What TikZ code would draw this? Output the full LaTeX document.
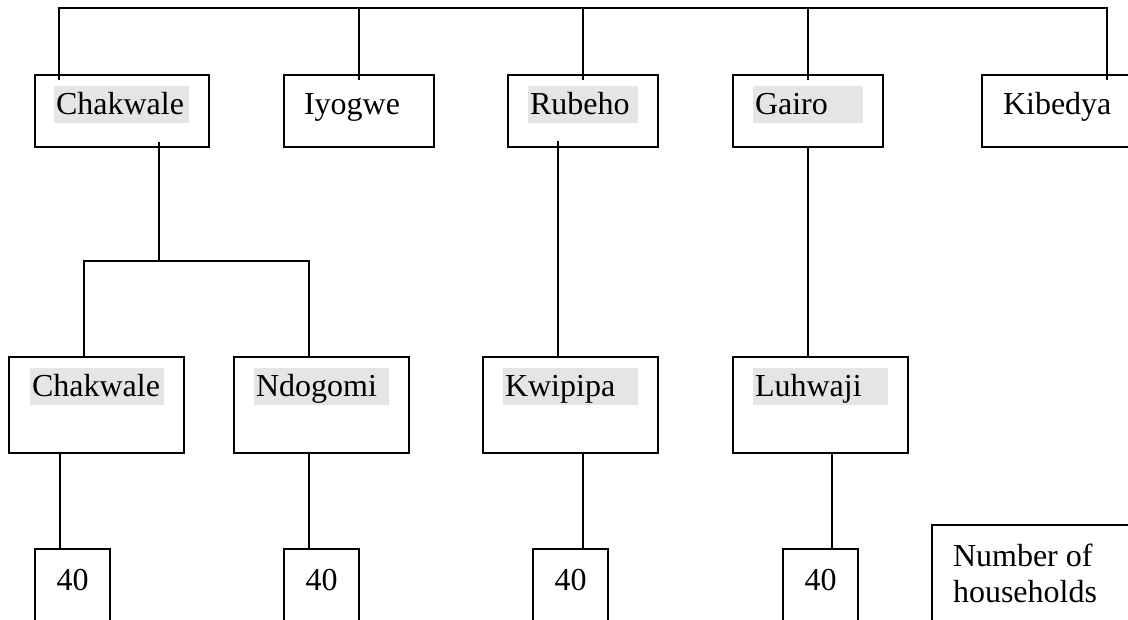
\documentclass[tikz,border=0pt]{standalone}
\usepackage{fontspec}
\setmainfont{Liberation Serif}
\usetikzlibrary{positioning}

\begin{document}
\begin{tikzpicture}[x=1pt, y=-1pt, line width=1.5pt,
    every node/.style={font=\fontsize{32}{36}\selectfont, outer sep=0pt},
    boxnode/.style={rectangle, draw, inner sep=0pt, minimum height=72pt},
    lownode/.style={rectangle, draw, inner sep=0pt, minimum width=175pt, minimum height=96pt},
    namenode/.style={rectangle, inner xsep=2pt, inner ysep=2pt, text height=27pt, text depth=6pt, align=left},
    marknode/.style={namenode, fill=black!10},
    countnode/.style={rectangle, draw, inner sep=0pt, minimum width=75pt, text height=41pt, text depth=59pt}]

        \useasboundingbox (0,0) rectangle (1128,620);
        \clip (0,0) rectangle (1128,620);
        \fill[white] (0,0) rectangle (1128,620);
        \coordinate (bar) at (0,8);

        % wards
        \node[boxnode, minimum width=174pt] (cw) at (122,111) {};
        \node[boxnode, minimum width=150pt] (iy) [right=75pt of cw] {};
        \node[boxnode, minimum width=150pt] (rb) [right=74pt of iy] {};
        \node[boxnode, minimum width=150pt] (gr) [right=75pt of rb] {};
        \node[boxnode, minimum width=150pt] (kb) [right=99pt of gr] {};

        \node[marknode, text width=131pt] (cw-t) [below right=11pt and 19pt of cw.north west] {Chakwale};
        \node[namenode] (iy-t) [below right=11pt and 18pt of iy.north west] {Iyogwe};
        \node[marknode, text width=106pt] (rb-t) [below right=11pt and 20pt of rb.north west] {Rubeho};
        \node[marknode, text width=106pt] (gr-t) [below right=11pt and 20pt of gr.north west] {Gairo};
        \node[namenode] (kb-t) [below right=11pt and 19pt of kb.north west] {Kibedya};

        % villages
        \node[lownode] (cw2) at (96.5,405) {};
        \node[lownode] (nd) [right=50pt of cw2] {};
        \node[lownode] (kw) [right=74pt of nd] {};
        \node[lownode] (lh) [right=75pt of kw] {};

        \node[marknode, text width=130pt] (cw2-t) [below right=11pt and 21pt of cw2.north west] {Chakwale};
        \node[marknode, text width=131pt] (nd-t) [below right=11pt and 20pt of nd.north west] {Ndogomi};
        \node[marknode, text width=131pt] (kw-t) [below right=11pt and 20pt of kw.north west] {Kwipipa};
        \node[marknode, text width=131pt] (lh-t) [below right=11pt and 20pt of lh.north west] {Luhwaji};

        % households
        \node[countnode] (n1) at (72.5,599) {40};
        \node[countnode] (n2) [right=174pt of n1] {40};
        \node[countnode] (n3) [right=174pt of n2] {40};
        \node[countnode] (n4) [right=175pt of n3] {40};

        \node[rectangle, draw, anchor=north west, minimum width=220pt, minimum height=120pt] (nh) at (932,525) {};
        \node[align=left, inner sep=0pt] (nh-t) [below right=19pt and 21pt of nh.north west] {Number of\\households};

        % links
        \draw ([xshift=-63pt, yshift=-5pt]cw.north) -- ++(0,-72) -| ([xshift=50pt, yshift=-5pt]kb.north);
        \foreach \w in {iy, rb, gr}
            \draw ([yshift=-5pt]\w.north) -- (\w.north |- bar);
        \draw ([xshift=37pt, yshift=5pt]cw.south) -- ++(0,119);
        \draw ([xshift=-12.5pt]cw2.north) -- ++(0,-96) -| ([xshift=-12.5pt]nd.north);
        \draw ([xshift=-25pt, yshift=6pt]rb.south) -- ([xshift=-12.5pt]kw.north);
        \draw (gr.south) -- ([xshift=-12.5pt]lh.north);
        \draw ([xshift=-36.5pt]cw2.south) -- ([xshift=-12.5pt]n1.north);
        \draw ([xshift=-12.5pt]nd.south) -- ([xshift=-12.5pt]n2.north);
        \draw ([xshift=12.5pt]kw.south) -- ([xshift=12.5pt]n3.north);
        \draw ([xshift=11.5pt]lh.south) -- ([xshift=11.5pt]n4.north);

\end{tikzpicture}
\end{document}
